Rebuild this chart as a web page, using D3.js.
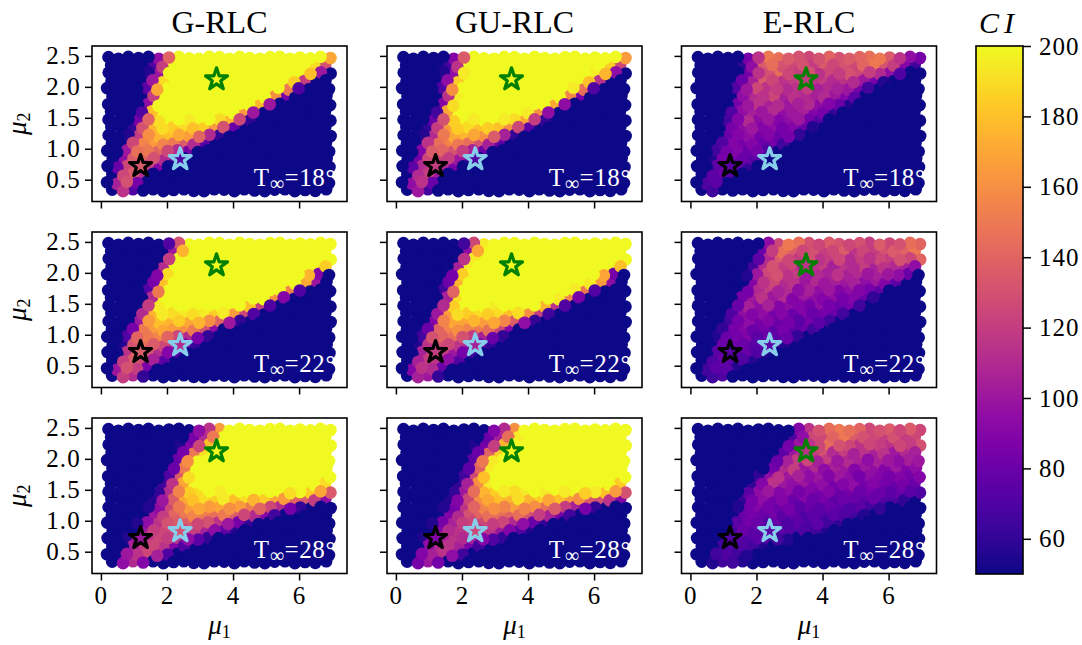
<!DOCTYPE html>
<html>
<head>
<meta charset="utf-8">
<script src="https://cdn.jsdelivr.net/npm/d3@7"></script>
<style>
  html, body { margin: 0; padding: 0; background: #fff; }
  text { font-family: "Liberation Serif", serif; fill: #000; }
</style>
</head>
<body>
<div id="chart"></div>
<script>
// --------------- Data --------------- //

const titles = ["G-RLC", "GU-RLC", "E-RLC"];
const temps = ["18", "22", "28"];
const mu1Ticks = [0, 2, 4, 6];
const mu2Ticks = [0.5, 1.0, 1.5, 2.0, 2.5];
const ciTicks = [60, 80, 100, 120, 140, 160, 180, 200];

// sample positions, rows alternate between the two mu1 lists
const mu2Rows = [2.47, 2.34, 2.22, 2.09, 1.97, 1.84, 1.71, 1.59, 1.46, 1.34, 1.21, 1.08, 0.96, 0.83, 0.71, 0.58, 0.45, 0.33];
const mu1Even = [0.21, 0.51, 0.81, 1.12, 1.42, 1.73, 2.04, 2.34, 2.65, 2.95, 3.26, 3.57, 3.87, 4.18, 4.48, 4.79, 5.10, 5.40, 5.71, 6.01, 6.32, 6.63, 6.93];
const mu1Odd = [0.33, 0.66, 0.96, 1.27, 1.57, 1.88, 2.19, 2.50, 2.80, 3.11, 3.42, 3.72, 4.03, 4.33, 4.64, 4.95, 5.25, 5.56, 5.86, 6.17, 6.48, 6.81];
// the samples do not sit on a clean lattice
const mu1RowNudge = [0.02, -0.02, 0.025, -0.01, -0.025, 0.02, 0.01, -0.025, 0.02, -0.015, 0.025, 0.005, -0.02, 0.025, -0.01, 0.015, -0.025, 0.01];
const mu2ColNudge = [0.01, -0.015, 0.015, -0.005, 0.015, -0.015, 0.005, 0.015, -0.01, -0.015, 0.015, 0.01, -0.015, 0.015, -0.005, -0.015, 0.01, 0.015, -0.015, 0.005, -0.01, 0.015, -0.005];

// CI per sample, one array per panel
const ciG18 = [
[50,50,50,50,50,95,140,200,200,200,200,200,200,200,200,200,200,200,200,200,200,200,170],
[50,50,50,50,70,120,200,200,200,200,200,200,200,200,200,200,200,200,200,200,190,130],
[50,50,50,50,55,100,200,200,200,200,200,200,200,200,200,200,200,200,200,200,180,100,50],
[50,50,50,50,100,190,200,200,200,200,200,200,200,200,200,200,200,200,185,120,50,50],
[50,50,50,50,75,170,200,200,200,200,200,200,200,200,200,200,200,200,150,70,50,50,50],
[50,50,50,50,120,200,200,200,200,200,200,200,200,200,200,200,160,85,50,50,50,50],
[50,50,50,50,95,200,200,200,200,200,200,200,200,200,200,175,100,50,50,50,50,50,50],
[50,50,50,70,180,200,200,200,200,200,200,200,200,165,100,50,50,50,50,50,50,50],
[50,50,50,85,140,190,200,200,195,200,200,190,175,125,60,50,50,50,50,50,50,50,50],
[50,50,60,130,175,190,185,190,180,185,165,130,80,50,50,50,50,50,50,50,50,50],
[50,50,55,120,160,175,180,170,165,140,110,60,50,50,50,50,50,50,50,50,50,50,50],
[50,50,125,155,165,155,150,135,110,75,50,50,50,50,50,50,50,50,50,50,50,50],
[50,50,100,145,150,140,125,110,85,50,50,50,50,50,50,50,50,50,50,50,50,50,50],
[50,95,135,140,130,110,75,50,50,50,50,50,50,50,50,50,50,50,50,50,50,50],
[50,80,125,135,120,90,50,50,50,50,50,50,50,50,50,50,50,50,50,50,50,50,50],
[50,125,135,110,50,50,50,50,50,50,50,50,50,50,50,50,50,50,50,50,50,50],
[50,105,130,85,50,50,50,50,50,50,50,50,50,50,50,50,50,50,50,50,50,50,50],
[50,115,70,50,50,50,50,50,50,50,50,50,50,50,50,50,50,50,50,50,50,50]];
const ciGU18 = [
[50,50,50,50,50,90,135,200,200,200,200,200,200,200,200,200,200,200,200,200,200,200,165],
[50,50,50,50,65,115,200,200,200,200,200,200,200,200,200,200,200,200,200,200,185,125],
[50,50,50,50,55,95,195,200,200,200,200,200,200,200,200,200,200,200,200,195,175,95,50],
[50,50,50,50,95,185,200,200,200,200,200,200,200,200,200,200,200,200,180,115,50,50],
[50,50,50,50,70,160,200,200,200,200,200,200,200,200,200,200,200,195,145,70,50,50,50],
[50,50,50,50,115,195,200,200,200,200,200,200,200,200,200,200,155,85,50,50,50,50],
[50,50,50,50,90,190,200,200,200,200,200,200,200,200,200,170,95,50,50,50,50,50,50],
[50,50,50,65,170,200,200,200,200,200,200,200,195,160,95,50,50,50,50,50,50,50],
[50,50,50,80,130,185,200,195,200,200,195,190,170,120,60,50,50,50,50,50,50,50,50],
[50,50,60,120,165,185,190,180,185,180,160,125,75,50,50,50,50,50,50,50,50,50],
[50,50,55,110,150,170,175,170,160,135,105,60,50,50,50,50,50,50,50,50,50,50,50],
[50,50,115,145,155,150,145,130,105,75,50,50,50,50,50,50,50,50,50,50,50,50],
[50,50,90,135,140,130,120,105,80,50,50,50,50,50,50,50,50,50,50,50,50,50,50],
[50,85,125,125,120,100,70,50,50,50,50,50,50,50,50,50,50,50,50,50,50,50],
[50,75,110,120,110,85,50,50,50,50,50,50,50,50,50,50,50,50,50,50,50,50,50],
[50,110,120,100,50,50,50,50,50,50,50,50,50,50,50,50,50,50,50,50,50,50],
[50,95,115,80,50,50,50,50,50,50,50,50,50,50,50,50,50,50,50,50,50,50,50],
[50,100,65,50,50,50,50,50,50,50,50,50,50,50,50,50,50,50,50,50,50,50]];
const ciE18 = [
[50,50,50,50,50,85,115,150,145,135,130,125,130,140,130,135,140,145,150,135,115,95,85],
[50,50,50,50,60,95,135,145,130,125,130,120,135,125,130,125,140,150,130,120,90,65],
[50,50,50,50,50,85,115,130,145,125,120,130,115,125,120,130,125,120,110,95,70,50,50],
[50,50,50,50,80,105,135,125,115,120,125,115,120,110,115,110,100,85,55,50,50,50],
[50,50,50,50,70,100,125,115,120,110,115,120,105,110,105,100,85,65,50,50,50,50,50],
[50,50,50,50,95,110,115,125,105,115,110,105,110,100,90,75,50,50,50,50,50,50],
[50,50,50,50,85,100,115,105,110,100,105,110,95,90,80,55,50,50,50,50,50,50,50],
[50,50,50,70,95,105,100,110,95,100,105,90,85,60,50,50,50,50,50,50,50,50],
[50,50,50,65,90,110,95,100,90,95,100,85,70,50,50,50,50,50,50,50,50,50,50],
[50,50,50,85,95,100,90,95,85,90,80,55,50,50,50,50,50,50,50,50,50,50],
[50,50,50,80,90,95,85,90,80,85,60,50,50,50,50,50,50,50,50,50,50,50,50],
[50,50,70,90,85,90,80,85,65,50,50,50,50,50,50,50,50,50,50,50,50,50],
[50,50,65,85,90,80,85,70,50,50,50,50,50,50,50,50,50,50,50,50,50,50,50],
[50,55,85,85,80,75,60,50,50,50,50,50,50,50,50,50,50,50,50,50,50,50],
[50,50,75,80,75,60,50,50,50,50,50,50,50,50,50,50,50,50,50,50,50,50,50],
[50,75,80,70,50,50,50,50,50,50,50,50,50,50,50,50,50,50,50,50,50,50],
[50,70,75,50,50,50,50,50,50,50,50,50,50,50,50,50,50,50,50,50,50,50,50],
[50,65,50,50,50,50,50,50,50,50,50,50,50,50,50,50,50,50,50,50,50,50]];
const ciG22 = [
[50,50,50,50,50,50,70,130,200,200,200,200,200,200,200,200,200,200,200,200,200,200,200],
[50,50,50,50,50,50,100,175,200,200,200,200,200,200,200,200,200,200,200,200,200,200],
[50,50,50,50,50,50,120,200,200,200,200,200,200,200,200,200,200,200,200,200,200,200,200],
[50,50,50,50,50,110,200,200,200,200,200,200,200,200,200,200,200,200,200,200,200,185],
[50,50,50,50,50,90,190,200,200,200,200,200,200,200,200,200,200,200,200,200,175,90,50],
[50,50,50,50,85,180,200,200,200,200,200,200,200,200,200,200,200,200,200,170,100,50],
[50,50,50,50,70,150,200,200,200,200,200,200,200,200,200,200,200,200,155,70,50,50,50],
[50,50,50,50,110,200,200,200,200,200,200,200,200,200,200,200,160,90,50,50,50,50],
[50,50,50,50,120,195,200,200,200,200,200,200,200,200,180,120,70,50,50,50,50,50,50],
[50,50,50,110,175,195,190,195,190,195,185,195,165,125,70,50,50,50,50,50,50,50],
[50,50,50,100,165,180,175,185,170,175,160,140,100,60,50,50,50,50,50,50,50,50,50],
[50,50,85,150,165,170,165,160,150,130,95,50,50,50,50,50,50,50,50,50,50,50],
[50,50,70,140,150,155,140,125,110,85,60,50,50,50,50,50,50,50,50,50,50,50,50],
[50,55,130,145,135,125,110,90,60,50,50,50,50,50,50,50,50,50,50,50,50,50],
[50,50,115,140,130,110,90,70,50,50,50,50,50,50,50,50,50,50,50,50,50,50,50],
[50,120,135,125,105,75,50,50,50,50,50,50,50,50,50,50,50,50,50,50,50,50],
[50,100,130,120,85,50,50,50,50,50,50,50,50,50,50,50,50,50,50,50,50,50,50],
[50,120,110,60,50,50,50,50,50,50,50,50,50,50,50,50,50,50,50,50,50,50]];
const ciGU22 = [
[50,50,50,50,50,50,65,125,195,200,200,200,200,200,200,200,200,200,200,200,200,200,200],
[50,50,50,50,50,50,95,170,200,200,200,200,200,200,200,200,200,200,200,200,200,200],
[50,50,50,50,50,50,115,195,200,200,200,200,200,200,200,200,200,200,200,200,200,200,200],
[50,50,50,50,50,105,195,200,200,200,200,200,200,200,200,200,200,200,200,200,200,180],
[50,50,50,50,50,85,185,200,200,200,200,200,200,200,200,200,200,200,200,200,170,85,50],
[50,50,50,50,80,175,200,200,200,200,200,200,200,200,200,200,200,200,195,165,95,50],
[50,50,50,50,65,140,200,200,200,200,200,200,200,200,200,200,200,195,150,70,50,50,50],
[50,50,50,50,105,190,200,200,200,200,200,200,200,200,200,195,155,85,50,50,50,50],
[50,50,50,50,110,185,200,200,200,195,200,200,200,200,175,115,70,50,50,50,50,50,50],
[50,50,50,100,165,190,185,190,185,190,180,190,160,120,65,50,50,50,50,50,50,50],
[50,50,50,90,155,170,170,175,165,170,155,135,95,60,50,50,50,50,50,50,50,50,50],
[50,50,80,140,155,160,155,150,145,125,90,50,50,50,50,50,50,50,50,50,50,50],
[50,50,65,130,140,145,130,120,105,80,60,50,50,50,50,50,50,50,50,50,50,50,50],
[50,55,115,130,125,115,105,85,60,50,50,50,50,50,50,50,50,50,50,50,50,50],
[50,50,105,125,120,100,85,65,50,50,50,50,50,50,50,50,50,50,50,50,50,50,50],
[50,105,120,115,95,70,50,50,50,50,50,50,50,50,50,50,50,50,50,50,50,50],
[50,90,115,110,80,50,50,50,50,50,50,50,50,50,50,50,50,50,50,50,50,50,50],
[50,105,100,60,50,50,50,50,50,50,50,50,50,50,50,50,50,50,50,50,50,50]];
const ciE22 = [
[50,50,50,50,50,50,50,95,125,150,145,130,125,135,130,125,130,120,135,125,130,145,140],
[50,50,50,50,50,50,80,120,145,135,125,130,120,125,135,115,125,120,130,135,140,150],
[50,50,50,50,50,50,75,110,135,125,120,130,115,120,125,110,120,115,125,120,130,125,140],
[50,50,50,50,50,65,110,130,120,125,105,115,120,105,115,110,120,105,115,110,105,95],
[50,50,50,50,50,55,100,125,130,115,120,100,110,105,115,105,110,100,105,100,95,80,50],
[50,50,50,50,50,90,115,125,110,115,100,110,100,105,100,105,95,100,90,75,50,50],
[50,50,50,50,50,85,110,120,105,110,95,105,95,100,90,95,90,85,75,50,50,50,50],
[50,50,50,50,85,100,115,100,110,90,100,95,90,95,85,90,80,60,50,50,50,50],
[50,50,50,50,80,105,95,105,90,95,90,85,95,85,80,85,65,50,50,50,50,50,50],
[50,50,50,70,95,90,95,85,90,80,90,80,85,80,65,50,50,50,50,50,50,50],
[50,50,50,65,85,95,85,90,80,85,75,85,75,65,50,50,50,50,50,50,50,50,50],
[50,50,60,85,90,80,85,75,85,75,80,65,50,50,50,50,50,50,50,50,50,50],
[50,50,55,80,85,90,75,80,75,80,60,50,50,50,50,50,50,50,50,50,50,50,50],
[50,50,80,85,80,75,80,70,55,50,50,50,50,50,50,50,50,50,50,50,50,50],
[50,50,75,80,75,80,70,55,50,50,50,50,50,50,50,50,50,50,50,50,50,50,50],
[50,70,80,75,70,55,50,50,50,50,50,50,50,50,50,50,50,50,50,50,50,50],
[50,65,75,75,55,50,50,50,50,50,50,50,50,50,50,50,50,50,50,50,50,50,50],
[50,65,70,50,50,50,50,50,50,50,50,50,50,50,50,50,50,50,50,50,50,50]];
const ciG28 = [
[50,50,50,50,50,50,50,50,50,95,115,165,200,200,200,200,200,200,200,200,200,200,200],
[50,50,50,50,50,50,50,50,85,110,150,200,200,200,200,200,200,200,200,200,200,200],
[50,50,50,50,50,50,50,55,90,125,180,200,200,200,200,200,200,200,200,200,200,200,200],
[50,50,50,50,50,50,50,85,150,190,200,200,200,200,200,200,200,200,200,200,200,200],
[50,50,50,50,50,50,50,80,160,200,200,200,200,200,200,200,200,200,200,200,200,200,200],
[50,50,50,50,50,50,80,150,200,200,200,200,200,200,200,200,200,200,200,200,200,200],
[50,50,50,50,50,50,70,135,190,200,200,200,200,200,200,200,200,200,200,200,200,200,200],
[50,50,50,50,50,65,115,170,200,200,200,200,200,200,200,200,200,200,200,200,200,190],
[50,50,50,50,50,60,110,155,185,190,200,195,200,200,200,200,200,200,190,200,185,170,135],
[50,50,50,50,55,100,135,170,180,190,185,195,180,190,175,185,170,165,140,135,120,95],
[50,50,50,50,55,95,125,150,165,170,165,170,160,165,150,140,125,110,85,60,50,50,50],
[50,50,50,50,100,120,140,150,155,150,145,150,135,125,110,90,65,50,50,50,50,50],
[50,50,50,55,95,115,130,135,135,125,130,115,100,85,60,50,50,50,50,50,50,50,50],
[50,50,50,100,120,125,130,125,120,105,95,75,55,50,50,50,50,50,50,50,50,50],
[50,50,55,100,115,125,120,115,95,75,60,50,50,50,50,50,50,50,50,50,50,50,50],
[50,50,105,120,125,115,90,70,50,50,50,50,50,50,50,50,50,50,50,50,50,50],
[50,50,100,115,125,105,70,50,50,50,50,50,50,50,50,50,50,50,50,50,50,50,50],
[50,95,110,90,50,50,50,50,50,50,50,50,50,50,50,50,50,50,50,50,50,50]];
const ciGU28 = [
[50,50,50,50,50,50,50,50,50,90,110,160,200,200,200,200,200,200,200,200,200,200,200],
[50,50,50,50,50,50,50,50,80,105,145,195,200,200,200,200,200,200,200,200,200,200],
[50,50,50,50,50,50,50,55,85,120,175,200,200,200,200,200,200,200,200,200,200,200,200],
[50,50,50,50,50,50,50,80,140,185,200,200,200,200,200,200,200,200,200,200,200,200],
[50,50,50,50,50,50,50,75,150,195,200,200,200,200,200,200,200,200,200,200,200,200,200],
[50,50,50,50,50,50,75,140,195,200,200,200,200,200,200,200,200,200,200,200,200,200],
[50,50,50,50,50,50,65,125,180,200,200,200,200,200,200,200,200,200,200,200,200,200,200],
[50,50,50,50,50,60,105,160,195,200,200,200,200,200,200,200,200,200,200,200,200,185],
[50,50,50,50,50,60,100,145,175,185,195,190,195,200,195,200,195,200,185,195,180,165,130],
[50,50,50,50,55,90,125,160,170,180,175,190,175,185,170,180,165,160,135,130,115,90],
[50,50,50,50,55,85,115,140,155,160,155,165,155,160,145,135,120,105,85,60,50,50,50],
[50,50,50,50,90,110,130,140,145,145,140,145,130,120,105,85,65,50,50,50,50,50],
[50,50,50,55,85,105,120,125,125,120,125,110,95,80,60,50,50,50,50,50,50,50,50],
[50,50,50,90,110,115,120,115,115,100,90,70,55,50,50,50,50,50,50,50,50,50],
[50,50,55,90,105,115,110,105,90,70,60,50,50,50,50,50,50,50,50,50,50,50,50],
[50,50,95,110,115,105,85,65,50,50,50,50,50,50,50,50,50,50,50,50,50,50],
[50,50,90,105,115,95,65,50,50,50,50,50,50,50,50,50,50,50,50,50,50,50,50],
[50,85,100,85,50,50,50,50,50,50,50,50,50,50,50,50,50,50,50,50,50,50]];
const ciE28 = [
[50,50,50,50,50,50,50,50,50,50,90,115,130,145,150,145,140,125,130,135,125,135,125],
[50,50,50,50,50,50,50,50,50,70,95,125,125,140,150,135,130,125,120,130,120,125],
[50,50,50,50,50,50,50,50,50,85,100,115,125,145,130,125,115,125,120,115,125,120,130],
[50,50,50,50,50,50,50,50,75,100,110,120,130,110,120,105,115,105,115,100,110,105],
[50,50,50,50,50,50,50,50,80,105,120,125,105,120,100,110,105,95,105,100,95,105,100],
[50,50,50,50,50,50,50,85,110,120,100,110,95,105,100,90,100,95,90,100,90,95],
[50,50,50,50,50,50,60,95,115,100,105,95,100,90,100,95,85,95,90,85,90,85,90],
[50,50,50,50,50,60,90,115,100,95,100,90,95,85,90,95,85,90,85,80,85,80],
[50,50,50,50,50,75,95,100,90,95,85,90,85,90,80,85,80,85,80,75,80,75,70],
[50,50,50,50,60,85,95,85,90,80,90,80,85,75,80,80,75,80,70,70,60,50],
[50,50,50,50,55,85,90,85,80,85,75,80,75,80,75,70,75,65,60,50,50,50,50],
[50,50,50,50,80,85,80,85,75,80,70,75,70,75,70,65,55,50,50,50,50,50],
[50,50,50,50,75,85,80,75,80,70,75,70,75,65,60,50,50,50,50,50,50,50,50],
[50,50,50,65,80,75,80,70,75,70,70,65,55,50,50,50,50,50,50,50,50,50],
[50,50,50,65,75,70,75,70,65,55,50,50,50,50,50,50,50,50,50,50,50,50,50],
[50,50,65,70,70,65,55,50,50,50,50,50,50,50,50,50,50,50,50,50,50,50],
[50,50,65,70,65,55,50,50,50,50,50,50,50,50,50,50,50,50,50,50,50,50,50],
[50,55,65,65,55,50,50,50,50,50,50,50,50,50,50,50,50,50,50,50,50,50]];

const panelCI = [[ciG18, ciGU18, ciE18], [ciG22, ciGU22, ciE22], [ciG28, ciGU28, ciE28]];

// highlighted operating points and the CI that fills each star
const starMu1 = [1.2, 2.4, 3.5];
const starMu2 = [0.72, 0.83, 2.12];
const starEdge = ["#000000", "#87ceeb", "#008000"];
const starCI = [
  [[135, 70, 200], [120, 70, 200], [75, 50, 120]],
  [[135, 110, 200], [120, 105, 200], [75, 75, 115]],
  [[100, 130, 200], [90, 125, 200], [70, 75, 115]]
];

// --------------- Basic Setup --------------- //

const width = 1082,
    height = 645;

const colLeft = [92, 387, 681.5],
    rowTop = [46, 232, 418],
    panelW = 255,
    panelH = 155.5;

const svg = d3.select("#chart")
    .append("svg")
    .attr("width", width)
    .attr("height", height)
    .style("display", "block");

const color = d3.scaleSequential(d3.interpolatePlasma).domain([50, 200]);
const star = d3.symbol().type(d3.symbolStar).size(150);

// --------------- Build the Panels --------------- //

panelCI.forEach((rowPanels, r) => {
    rowPanels.forEach((ci, c) => {
        const x = d3.scaleLinear().domain([-0.27, 7.45]).range([colLeft[c], colLeft[c] + panelW]);
        const y = d3.scaleLinear().domain([0.148, 2.66]).range([rowTop[r] + panelH, rowTop[r]]);

        const points = [];
        ci.forEach((row, i) => {
            const mu1 = i % 2 ? mu1Odd : mu1Even;
            row.forEach((v, j) => points.push({
                mu1: mu1[j] + mu1RowNudge[i],
                mu2: mu2Rows[i] + mu2ColNudge[j],
                ci: v,
                order: (i * 7 + j * 11) % 17
            }));
        });
        // the original points are not plotted row by row
        points.sort((a, b) => a.order - b.order);

        const g = svg.append("g");

        g.append("g")
            .selectAll("circle")
            .data(points)
            .join("circle")
            .attr("cx", d => x(d.mu1))
            .attr("cy", d => y(d.mu2))
            .attr("r", 6.3)
            .attr("fill", d => color(d.ci));

        // Stars
        g.append("g")
            .selectAll("path")
            .data(starMu1)
            .join("path")
            .attr("d", star)
            .attr("transform", (d, i) => `translate(${x(d)},${y(starMu2[i])})`)
            .attr("fill", (d, i) => color(starCI[r][c][i]))
            .attr("stroke", (d, i) => starEdge[i])
            .attr("stroke-width", 3.2)
            .attr("stroke-linejoin", "round");

        // Temperature label
        const t = g.append("text")
            .attr("x", colLeft[c] + 244)
            .attr("y", rowTop[r] + 140)
            .attr("text-anchor", "end")
            .attr("font-size", 25)
            .attr("letter-spacing", 0.6)
            .style("fill", "#fff");
        t.append("tspan").text("T");
        t.append("tspan").attr("font-size", 20).attr("dy", 4).text("\u221e");
        t.append("tspan").attr("dy", -4).text("=" + temps[r] + "\u00b0");

        // Frame
        g.append("rect")
            .attr("x", colLeft[c])
            .attr("y", rowTop[r])
            .attr("width", panelW)
            .attr("height", panelH)
            .attr("fill", "none")
            .attr("stroke", "#000")
            .attr("stroke-width", 1.6);

        // Axes, labels only on the outer panels
        const xAxis = g.append("g")
            .attr("transform", `translate(0,${rowTop[r] + panelH})`)
            .call(d3.axisBottom(x).tickValues(mu1Ticks).tickSize(7).tickPadding(6)
                .tickFormat(r === 2 ? d3.format("d") : ""));
        const yAxis = g.append("g")
            .attr("transform", `translate(${colLeft[c]},0)`)
            .call(d3.axisLeft(y).tickValues(mu2Ticks).tickSize(7).tickPadding(4)
                .tickFormat(c === 0 ? d3.format(".1f") : ""));
        [xAxis, yAxis].forEach(a => {
            a.select(".domain").remove();
            a.selectAll("line").attr("stroke", "#000").attr("stroke-width", 1.5);
            a.selectAll("text")
                .attr("font-size", 25)
                .attr("letter-spacing", 1.2)
                .attr("font-family", "Liberation Serif");
        });

        if (r === 0) {
            g.append("text")
                .attr("x", colLeft[c] + panelW / 2)
                .attr("y", 33)
                .attr("text-anchor", "middle")
                .attr("font-size", 32)
                .text(titles[c]);
        }
        if (r === 2) {
            const lab = g.append("text")
                .attr("x", colLeft[c] + panelW / 2)
                .attr("y", 634)
                .attr("text-anchor", "middle")
                .attr("font-size", 27)
                .attr("font-style", "italic")
                .text("\u03bc");
            lab.append("tspan").attr("font-size", 18).attr("dy", 4).attr("font-style", "normal").text("1");
        }
        if (c === 0) {
            const lab = g.append("text")
                .attr("transform", `translate(26,${rowTop[r] + panelH / 2}) rotate(-90)`)
                .attr("text-anchor", "middle")
                .attr("font-size", 27)
                .attr("font-style", "italic")
                .text("\u03bc");
            lab.append("tspan").attr("font-size", 18).attr("dy", 4).attr("font-style", "normal").text("2");
        }
    });
});

// --------------- Colorbar --------------- //

const cbLeft = 976,
    cbWidth = 47,
    cbTop = 46,
    cbBottom = 574;

const cbScale = d3.scaleLinear().domain([50, 200]).range([cbBottom, cbTop]);

const grad = svg.append("defs").append("linearGradient")
    .attr("id", "plasma")
    .attr("x1", 0).attr("y1", 1).attr("x2", 0).attr("y2", 0);
grad.selectAll("stop")
    .data(d3.range(0, 1.001, 0.05))
    .join("stop")
    .attr("offset", d => d)
    .attr("stop-color", d => d3.interpolatePlasma(d));

svg.append("rect")
    .attr("x", cbLeft)
    .attr("y", cbTop)
    .attr("width", cbWidth)
    .attr("height", cbBottom - cbTop)
    .attr("fill", "url(#plasma)")
    .attr("stroke", "#000")
    .attr("stroke-width", 1.6);

const cbAxis = svg.append("g")
    .attr("transform", `translate(${cbLeft + cbWidth},0)`)
    .call(d3.axisRight(cbScale).tickValues(ciTicks).tickSize(8).tickPadding(8).tickFormat(d3.format("d")));
cbAxis.select(".domain").remove();
cbAxis.selectAll("line").attr("stroke", "#000").attr("stroke-width", 1.5);
cbAxis.selectAll("text")
    .attr("font-size", 25)
    .attr("letter-spacing", 1)
    .attr("font-family", "Liberation Serif");

svg.append("text")
    .attr("x", 999)
    .attr("y", 33)
    .attr("text-anchor", "middle")
    .attr("font-size", 30)
    .attr("font-style", "italic")
    .attr("letter-spacing", 5)
    .text("CI");
</script>
</body>
</html>
